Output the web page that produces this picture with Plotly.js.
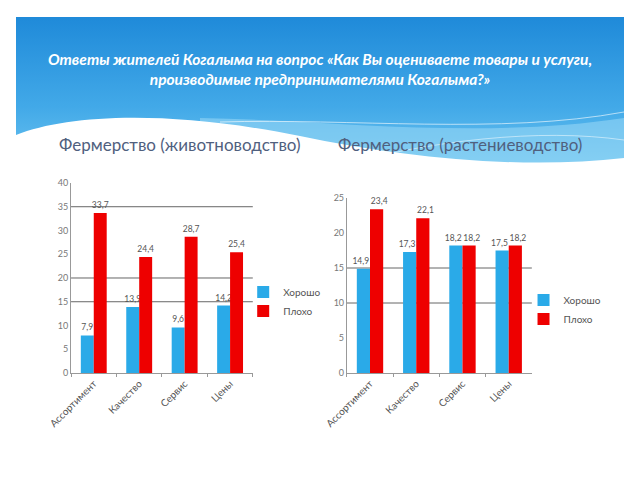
<!DOCTYPE html>
<html><head><meta charset="utf-8">
<script src="https://cdn.plot.ly/plotly-3.0.1.min.js"></script>
<style>
html,body{margin:0;padding:0;background:#fff;}
#wrap{position:relative;width:640px;height:480px;overflow:hidden;}
#bg{position:absolute;left:0;top:0;}
#chart{position:absolute;left:0;top:0;width:640px;height:480px;}
</style></head>
<body>
<div id="wrap">
<svg id="bg" width="640" height="480" xmlns="http://www.w3.org/2000/svg">
  <defs>
    <linearGradient id="g" x1="0" y1="0" x2="0" y2="1">
      <stop offset="0" stop-color="#1f8ad9"/>
      <stop offset="0.6" stop-color="#42a9e8"/>
      <stop offset="1" stop-color="#6cc4f0"/>
    </linearGradient>
  </defs>
  <rect x="16" y="17" width="608" height="150" fill="url(#g)"/>
  <path d="M200,118 C330,120 480,140 624,118 L624,165 L200,165 Z" fill="#9ad8f6" opacity="0.55"/>
  <path d="M16,135 C70,114 170,110 300,136 C400,157 520,170 624,158 L624,175 L16,175 Z" fill="#ffffff"/>
  <path d="M220,122 C350,118 500,135 624,112" stroke="#ffffff" stroke-width="1" fill="none" opacity="0.6"/>
  <path d="M330,168 C430,140 540,128 624,140" stroke="#ffffff" stroke-width="1" fill="none" opacity="0.5"/>
</svg>
<div id="chart"></div>
</div>
<script>
const categories = ['Ассортимент', 'Качество', 'Сервис', 'Цены'];
const goodAnimal = [7.9, 13.9, 9.6, 14.2];
const badAnimal = [33.7, 24.4, 28.7, 25.4];
const goodPlant = [14.9, 17.3, 18.2, 17.5];
const badPlant = [23.4, 22.1, 18.2, 18.2];
const seriesNames = ['Хорошо', 'Плохо'];
const gridLeft = [15, 20, 35];
const gridRight = [10, 15];

const blue = '#2aaae8';
const red = '#ee0000';
const fontFam = 'Lato, "Open Sans", sans-serif';

function bar(y, name, color, xa, ya, leg, tmpl) {
  return {
    type: 'bar', x: categories, y: y, name: name,
    marker: {color: color}, xaxis: xa, yaxis: ya, legend: leg,
    texttemplate: tmpl, textposition: 'outside', cliponaxis: false,
    constraintext: 'none',
    textfont: {size: 8.5, color: '#555', family: fontFam},
    hoverinfo: 'none'
  };
}

const data = [
  bar(goodAnimal, seriesNames[0], blue, 'x', 'y', 'legend', '%{y:.1f}'),
  bar(badAnimal, seriesNames[1], red, 'x', 'y', 'legend', '%{y:.1f}'),
  bar(goodPlant, seriesNames[0], blue, 'x2', 'y2', 'legend2', '%{y:.1f}\u2002\u2009'),
  bar(badPlant, seriesNames[1], red, 'x2', 'y2', 'legend2', '\u2002\u2009%{y:.1f}')
];

const shapes = [];
gridLeft.forEach(v => shapes.push({type:'line', xref:'x domain', yref:'y', x0:0, x1:1, y0:v, y1:v, line:{color:'#666', width:1}, layer:'below'}));
gridRight.forEach(v => shapes.push({type:'line', xref:'x2 domain', yref:'y2', x0:0, x1:1, y0:v, y1:v, line:{color:'#666', width:1}, layer:'below'}));

const xCommon = {
  type: 'category', showgrid: false, showline: true, linecolor: '#999', linewidth: 1,
  ticks: 'outside', tickson: 'boundaries', ticklen: 3, tickcolor: '#999',
  tickangle: -45, tickfont: {size: 10, color: '#555', family: fontFam}, fixedrange: true
};
const yCommon = {
  showgrid: false, showline: true, linecolor: '#999', linewidth: 1, zeroline: false,
  ticks: '', dtick: 5, tickfont: {size: 9, color: '#777', family: fontFam}, fixedrange: true
};

const layout = {
  width: 640, height: 480,
  margin: {l: 0, r: 0, t: 0, b: 0},
  paper_bgcolor: 'rgba(0,0,0,0)', plot_bgcolor: 'rgba(0,0,0,0)',
  separators: ', ',
  barmode: 'group', bargap: 0.43, bargroupgap: 0,
  font: {family: fontFam},
  xaxis: Object.assign({}, xCommon, {domain: [0.111, 0.395], anchor: 'y'}),
  yaxis: Object.assign({}, yCommon, {domain: [0.2229, 0.6188], range: [0, 40], anchor: 'x'}),
  xaxis2: Object.assign({}, xCommon, {domain: [0.542, 0.831], anchor: 'y2'}),
  yaxis2: Object.assign({}, yCommon, {domain: [0.2229, 0.5875], range: [0, 25], anchor: 'x2'}),
  legend: {x: 0.38, y: 0.372, xanchor: 'left', yanchor: 'middle', bgcolor: 'rgba(0,0,0,0)',
    font: {size: 10, color: '#555', family: fontFam}, itemwidth: 30, tracegroupgap: 0},
  legend2: {x: 0.818, y: 0.355, xanchor: 'left', yanchor: 'middle', bgcolor: 'rgba(0,0,0,0)',
    font: {size: 10, color: '#555', family: fontFam}, itemwidth: 30, tracegroupgap: 0},
  shapes: shapes,
  annotations: [
    {xref: 'paper', yref: 'paper', x: 0.5, y: 1 - 69/480, xanchor: 'center', yanchor: 'middle', showarrow: false,
     text: '<b><i>Ответы жителей Когалыма на вопрос «Как Вы оцениваете товары и услуги,<br>производимые предпринимателями Когалыма?»</i></b>',
     font: {size: 15.5, color: '#ffffff', family: fontFam}, align: 'center'},
    {xref: 'paper', yref: 'paper', x: 180/640, y: 1 - 145/480, xanchor: 'center', yanchor: 'middle', showarrow: false,
     text: 'Фермерство (животноводство)', font: {size: 17, color: '#50607e', family: fontFam}},
    {xref: 'paper', yref: 'paper', x: 460/640, y: 1 - 145/480, xanchor: 'center', yanchor: 'middle', showarrow: false,
     text: 'Фермерство (растениеводство)', font: {size: 17, color: '#50607e', family: fontFam}}
  ]
};

Plotly.newPlot('chart', data, layout, {staticPlot: true, displayModeBar: false});
</script>
</body></html>
